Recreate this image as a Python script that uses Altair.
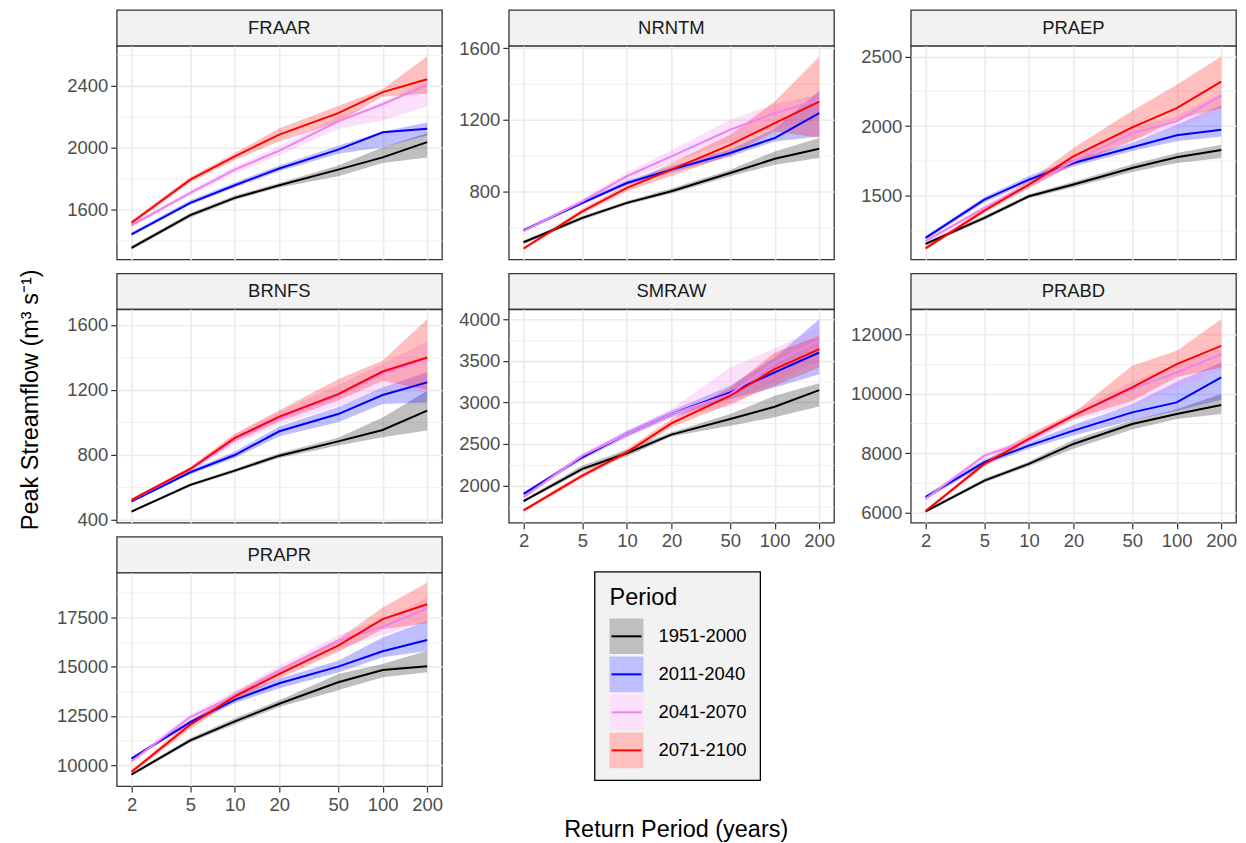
import json
import altair as alt
import pandas as pd

FONT = "Liberation Sans"

stations = ["FRAAR", "NRNTM", "PRAEP", "BRNFS", "SMRAW", "PRABD", "PRAPR"]
periods = ["1951-2000", "2011-2040", "2041-2070", "2071-2100"]
period_colors = ["black", "blue", "violet", "red"]
return_periods = [2, 5, 10, 20, 50, 100, 200]

# rows: 1951-2000, 2011-2040, 2041-2070, 2071-2100 ; columns: return periods
FRAAR_mid = [[1352, 1563, 1675, 1757, 1858, 1937, 2036],
             [1439, 1643, 1757, 1865, 1987, 2099, 2122],
             [1497, 1707, 1858, 1981, 2170, 2281, 2406],
             [1514, 1793, 1944, 2084, 2223, 2359, 2442]]
FRAAR_lo = [[1340, 1548, 1662, 1742, 1815, 1900, 1937],
            [1428, 1630, 1742, 1848, 1960, 2002, 2079],
            [1485, 1690, 1835, 1950, 2120, 2175, 2266],
            [1500, 1775, 1920, 2040, 2165, 2330, 2350]]
FRAAR_hi = [[1365, 1578, 1690, 1772, 1885, 2002, 2094],
            [1452, 1660, 1775, 1885, 2012, 2105, 2162],
            [1510, 1725, 1880, 2010, 2200, 2300, 2430],
            [1530, 1810, 1965, 2125, 2270, 2380, 2590]]

NRNTM_mid = [[515, 651, 735, 800, 902, 982, 1038],
             [581, 735, 846, 921, 1014, 1098, 1237],
             [577, 744, 884, 995, 1144, 1237, 1312],
             [480, 688, 819, 921, 1060, 1181, 1302]]
NRNTM_lo = [[505, 640, 725, 788, 884, 949, 986],
            [575, 725, 835, 905, 995, 1079, 1107],
            [568, 730, 860, 960, 1079, 1150, 1200],
            [470, 675, 800, 885, 1000, 1135, 1100]]
NRNTM_hi = [[525, 662, 745, 815, 921, 1023, 1098],
            [590, 748, 862, 940, 1035, 1150, 1362],
            [585, 758, 905, 1030, 1200, 1290, 1340],
            [490, 702, 840, 958, 1116, 1302, 1553]]

PRAEP_mid = [[1153, 1340, 1495, 1579, 1698, 1775, 1827],
             [1196, 1471, 1615, 1734, 1847, 1933, 1973],
             [1173, 1412, 1579, 1746, 1949, 2033, 2219],
             [1120, 1392, 1579, 1782, 1990, 2129, 2320]]
PRAEP_lo = [[1140, 1325, 1480, 1560, 1670, 1734, 1770],
            [1180, 1450, 1595, 1710, 1820, 1890, 1925],
            [1160, 1395, 1560, 1720, 1900, 1990, 2100],
            [1108, 1375, 1555, 1720, 1890, 2045, 2130]]
PRAEP_hi = [[1165, 1355, 1510, 1600, 1725, 1806, 1866],
            [1210, 1490, 1640, 1760, 1880, 2010, 2150],
            [1185, 1430, 1600, 1770, 1990, 2070, 2240],
            [1135, 1410, 1605, 1842, 2110, 2296, 2500]]

BRNFS_mid = [[451, 615, 703, 795, 883, 953, 1072],
             [513, 693, 799, 945, 1051, 1168, 1246],
             [521, 711, 895, 1025, 1165, 1300, 1390],
             [523, 713, 904, 1035, 1174, 1313, 1399]]
BRNFS_lo = [[445, 605, 692, 780, 857, 908, 950],
            [505, 680, 780, 915, 1000, 1113, 1123],
            [512, 698, 865, 985, 1100, 1200, 1195],
            [512, 700, 880, 1005, 1135, 1256, 1200]]
BRNFS_hi = [[458, 625, 715, 810, 905, 1030, 1195],
            [520, 705, 820, 975, 1095, 1215, 1310],
            [530, 725, 925, 1065, 1230, 1360, 1500],
            [532, 725, 930, 1075, 1265, 1380, 1635]]

SMRAW_mid = [[1812, 2200, 2388, 2612, 2800, 2948, 3148],
             [1900, 2340, 2620, 2860, 3120, 3360, 3600],
             [1860, 2360, 2620, 2860, 3100, 3480, 3748],
             [1700, 2120, 2400, 2748, 3080, 3400, 3640]]
SMRAW_lo = [[1795, 2170, 2350, 2590, 2720, 2820, 2950],
            [1880, 2310, 2585, 2820, 3040, 3180, 3340],
            [1840, 2330, 2580, 2810, 2950, 3250, 3500],
            [1680, 2090, 2370, 2700, 2980, 3200, 3420]]
SMRAW_hi = [[1830, 2240, 2430, 2640, 2860, 3080, 3230],
            [1920, 2370, 2660, 2900, 3200, 3540, 4000],
            [1880, 2390, 2660, 2920, 3420, 3650, 3900],
            [1720, 2150, 2440, 2800, 3180, 3600, 3800]]

PRABD_mid = [[6045, 7083, 7642, 8312, 8982, 9317, 9619],
             [6525, 7698, 8256, 8759, 9373, 9708, 10546],
             [6470, 7921, 8424, 9262, 10155, 10714, 11330],
             [6056, 7642, 8480, 9262, 10211, 10993, 11607]]
PRABD_lo = [[6000, 7020, 7560, 8150, 8800, 9150, 9320],
            [6450, 7600, 8150, 8600, 9100, 9430, 9800],
            [6400, 7850, 8300, 9100, 9600, 10200, 10800],
            [6000, 7560, 8400, 9150, 9760, 10550, 10880]]
PRABD_hi = [[6090, 7150, 7720, 8450, 9100, 9480, 9990],
            [6600, 7800, 8350, 8950, 9650, 10400, 11050],
            [6550, 8000, 8550, 9400, 10400, 11000, 11500],
            [6110, 7720, 8650, 9350, 10940, 11440, 12500]]

PRAPR_mid = [[9528, 11264, 12224, 13117, 14212, 14836, 15021],
             [10337, 12190, 13319, 14162, 15004, 15780, 16352],
             [10202, 12443, 13538, 14802, 16319, 17026, 17953],
             [9663, 12056, 13488, 14634, 16066, 17414, 18172]]
PRAPR_lo = [[9450, 11150, 12080, 12950, 13800, 14470, 14720],
            [10250, 12080, 13150, 13900, 14700, 15480, 15800],
            [10100, 12300, 13350, 14550, 15900, 16600, 17300],
            [9550, 11850, 13300, 14400, 15750, 16900, 17200]]
PRAPR_hi = [[9600, 11380, 12380, 13300, 14630, 15140, 15810],
            [10420, 12300, 13500, 14400, 15300, 16480, 17330],
            [10320, 12600, 13750, 15050, 16600, 17400, 18500],
            [9750, 12250, 13700, 14900, 16400, 18000, 19270]]

# y-axis ranges and tick labels per panel
y_domain = {"FRAAR": [1277, 2658], "NRNTM": [419, 1613], "PRAEP": [1041, 2576],
            "BRNFS": [382, 1696], "SMRAW": [1552, 4120], "PRABD": [5665, 12836],
            "PRAPR": [8938, 19773]}
y_major = {"FRAAR": [1600, 2000, 2400], "NRNTM": [800, 1200, 1600],
           "PRAEP": [1500, 2000, 2500], "BRNFS": [400, 800, 1200, 1600],
           "SMRAW": [2000, 2500, 3000, 3500, 4000], "PRABD": [6000, 8000, 10000, 12000],
           "PRAPR": [10000, 12500, 15000, 17500]}
y_minor = {"FRAAR": [1400, 1800, 2200, 2600], "NRNTM": [600, 1000, 1400],
           "PRAEP": [1250, 1750, 2250], "BRNFS": [600, 1000, 1400],
           "SMRAW": [1750, 2250, 2750, 3250, 3750], "PRABD": [7000, 9000, 11000],
           "PRAPR": [11250, 13750, 16250, 18750]}

MID = {"FRAAR": FRAAR_mid, "NRNTM": NRNTM_mid, "PRAEP": PRAEP_mid, "BRNFS": BRNFS_mid,
       "SMRAW": SMRAW_mid, "PRABD": PRABD_mid, "PRAPR": PRAPR_mid}
LO = {"FRAAR": FRAAR_lo, "NRNTM": NRNTM_lo, "PRAEP": PRAEP_lo, "BRNFS": BRNFS_lo,
      "SMRAW": SMRAW_lo, "PRABD": PRABD_lo, "PRAPR": PRAPR_lo}
HI = {"FRAAR": FRAAR_hi, "NRNTM": NRNTM_hi, "PRAEP": PRAEP_hi, "BRNFS": BRNFS_hi,
      "SMRAW": SMRAW_hi, "PRABD": PRABD_hi, "PRAPR": PRAPR_hi}

rows = []
for st in stations:
    for i, p in enumerate(periods):
        for j, rp in enumerate(return_periods):
            rows.append({"station": st, "period": p, "order": i, "rp": rp,
                         "mid": MID[st][i][j], "lo": LO[st][i][j], "hi": HI[st][i][j]})
df = pd.DataFrame(rows)

PW, PH, SH, GAP = 326, 214, 36, 14
color_scale = alt.Scale(domain=periods, range=period_colors)
x_scale = alt.Scale(type="log", domain=[1.5887, 251.77], nice=False)
BORDER = "#333333"


def plot(st, show_x):
    d = df[df.station == st]
    major = y_major[st]
    vals = sorted(major + y_minor[st])
    test = "indexof(%s, datum.value) >= 0" % json.dumps(major)
    yaxis = alt.Axis(values=vals, format="d", title=None, grid=True,
                     labelExpr=test + " ? datum.label : ''", labelOverlap=False,
                     gridWidth={"condition": {"test": test, "value": 1.6}, "value": 0.8},
                     tickOpacity={"condition": {"test": test, "value": 1}, "value": 0})
    xaxis = alt.Axis(values=return_periods, format="d", title=None, grid=True,
                     gridWidth=1.6, labels=show_x, ticks=show_x, labelFlush=False,
                     labelOverlap=False)
    x = alt.X("rp:Q", scale=x_scale, axis=xaxis)
    ys = alt.Scale(domain=y_domain[st], nice=False, zero=False)
    col = alt.Color("period:N", scale=color_scale, legend=None)
    band = alt.Chart(d).mark_area(opacity=0.25, clip=True).encode(
        x=x, y=alt.Y("lo:Q", scale=ys, axis=yaxis), y2="hi:Q", color=col,
        order=alt.Order("order:Q"))
    line = alt.Chart(d).mark_line(strokeWidth=2, clip=True).encode(
        x=x, y=alt.Y("mid:Q", scale=ys, axis=yaxis), color=col)
    return alt.layer(band, line).properties(
        width=PW, height=PH,
        view=alt.ViewBackground(stroke=BORDER, strokeWidth=1.3, fill="white"))


def strip(st):
    return alt.Chart(pd.DataFrame({"station": [st]})).mark_text(
        fontSize=18.5, color="#1a1a1a", font=FONT).encode(text="station:N").properties(
        width=PW, height=SH,
        view=alt.ViewBackground(fill="#F2F2F2", stroke=BORDER, strokeWidth=1.3))


def blank(w, h):
    return alt.Chart(pd.DataFrame({"a": [0]})).mark_point(opacity=0).properties(
        width=w, height=h, view=alt.ViewBackground(strokeOpacity=0, fillOpacity=0))


# legend panel
leg_df = pd.DataFrame({"period": periods})
leg_scale = alt.Scale(domain=periods, range=[47, 197], paddingInner=0.064, paddingOuter=0)
ly = alt.Y("period:N", axis=None, scale=leg_scale)
lyc = alt.Y("period:N", axis=None, bandPosition=0.5, scale=leg_scale)
lcol = alt.Color("period:N", scale=color_scale, legend=None)
leg_bg = alt.Chart(leg_df).mark_rect(fill="white").encode(y=ly, x=alt.value(15), x2=alt.value(49))
leg_key = alt.Chart(leg_df).mark_rect(opacity=0.25).encode(
    y=ly, x=alt.value(15), x2=alt.value(49), color=lcol)
leg_line = alt.Chart(leg_df).mark_rule(strokeWidth=2).encode(
    y=lyc, x=alt.value(17), x2=alt.value(47), color=lcol)
leg_txt = alt.Chart(leg_df).mark_text(align="left", baseline="middle", fontSize=18.5,
                                      font=FONT, color="black").encode(
    y=lyc, x=alt.value(64), text="period:N")
leg_title = alt.Chart(pd.DataFrame({"t": ["Period"]})).mark_text(
    align="left", baseline="alphabetic", fontSize=23.5, font=FONT, color="black").encode(
    x=alt.value(15), y=alt.value(33), text="t:N")
legend = alt.layer(leg_bg, leg_key, leg_line, leg_txt, leg_title).properties(
    width=166, height=209,
    view=alt.ViewBackground(fill="#F2F2F2", stroke="black", strokeWidth=1.3))
legend_cell = alt.hconcat(blank(85, 4), legend, spacing=0)

col1 = alt.vconcat(strip("FRAAR"), plot("FRAAR", False), blank(PW, GAP),
                   strip("BRNFS"), plot("BRNFS", False), blank(PW, GAP),
                   strip("PRAPR"), plot("PRAPR", True), spacing=0, bounds="flush")
col2 = alt.vconcat(
    alt.vconcat(strip("NRNTM"), plot("NRNTM", False), blank(PW, GAP),
                strip("SMRAW"), plot("SMRAW", True), spacing=0, bounds="flush"),
    legend_cell, spacing=19)
col3 = alt.vconcat(strip("PRAEP"), plot("PRAEP", False), blank(PW, GAP),
                   strip("PRABD"), plot("PRABD", True), spacing=0, bounds="flush")

grid = alt.hconcat(alt.hconcat(col1, col2, spacing=14), col3, spacing=13).properties(
    title=alt.TitleParams("Peak Streamflow (m³ s⁻¹)", orient="left", anchor="middle",
                          offset=13, dx=12, fontSize=23.5, font=FONT, fontWeight="normal",
                          color="black"))

chart = alt.vconcat(grid).properties(
    title=alt.TitleParams("Return Period (years)", orient="bottom", anchor="middle",
                          dx=48, fontSize=23.5, font=FONT, fontWeight="normal",
                          color="black"),
    padding={"left": 11, "top": 0, "right": 0, "bottom": 0},
    background="white",
).configure_view(stroke="transparent").configure_axis(
    labelFont=FONT, labelFontSize=18.5, labelColor="#4d4d4d", tickColor=BORDER,
    tickSize=6, tickWidth=1.2, gridColor="#EBEBEB", domain=False, labelPadding=3,
)

chart.save("out.html", embed_options={"renderer": "svg", "actions": False})
